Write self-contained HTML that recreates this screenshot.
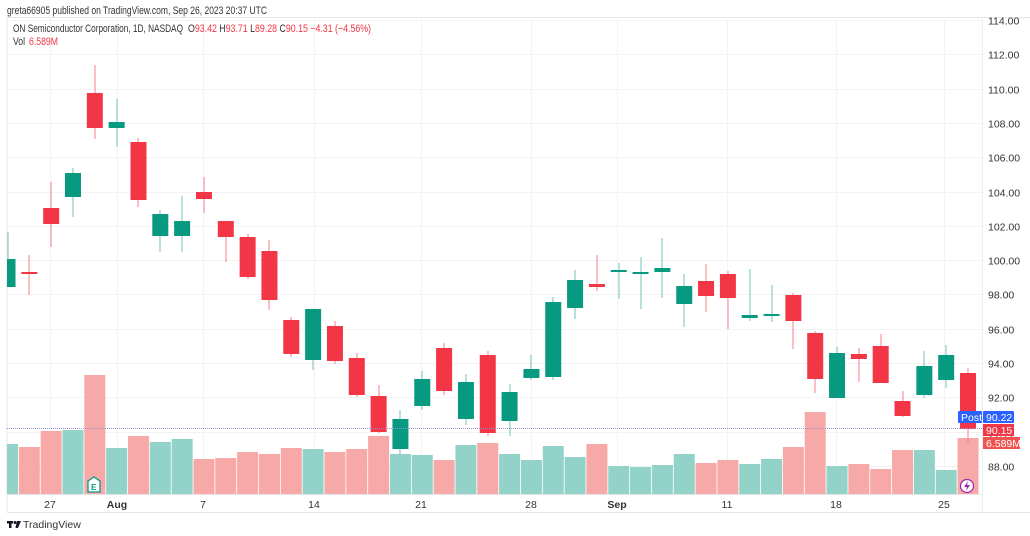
<!DOCTYPE html>
<html><head><meta charset="utf-8"><style>
html,body{margin:0;padding:0;background:#fff;width:1030px;height:536px;overflow:hidden;font-family:"Liberation Sans",sans-serif}
svg{display:block}
</style></head><body>
<svg id="s" width="1030" height="536" xmlns="http://www.w3.org/2000/svg" font-family="Liberation Sans, sans-serif">
<rect width="1030" height="536" fill="#fff"/>
<text x="7" y="14" font-size="11" fill="#333" textLength="260" lengthAdjust="spacingAndGlyphs">greta66905 published on TradingView.com, Sep 26, 2023 20:37 UTC</text>
<line x1="7" y1="17.5" x2="1030" y2="17.5" stroke="#e6e6ea"/>
<line x1="7" y1="17" x2="7" y2="512" stroke="#e6e6ea"/>
<line x1="7" y1="512.5" x2="1030" y2="512.5" stroke="#e6e6ea"/>
<line x1="7" y1="494.5" x2="982" y2="494.5" stroke="#e6e6ea"/>
<line x1="982.5" y1="17" x2="982.5" y2="512" stroke="#eeeef0"/>
<g id="grid"></g>
<g id="vol"></g>
<g id="cdl"></g>
<line x1="7" y1="428.5" x2="982" y2="428.5" stroke="#9a8fd8" stroke-dasharray="1,1" stroke-width="1"/>
<g id="axis" font-size="10.5" fill="#333"></g>
<g font-size="11">
<text x="13" y="32" fill="#333" textLength="170" lengthAdjust="spacingAndGlyphs">ON Semiconductor Corporation, 1D, NASDAQ</text>
<text x="188" y="32" fill="#333" textLength="183" lengthAdjust="spacingAndGlyphs">O<tspan fill="#f23645">93.42</tspan> H<tspan fill="#f23645">93.71</tspan> L<tspan fill="#f23645">89.28</tspan> C<tspan fill="#f23645">90.15</tspan> <tspan fill="#f23645">−4.31 (−4.56%)</tspan></text>
<text x="13" y="45" fill="#333" textLength="12" lengthAdjust="spacingAndGlyphs">Vol</text>
<text x="29" y="45" fill="#f23645" textLength="29" lengthAdjust="spacingAndGlyphs">6.589M</text>
</g>
<rect x="958" y="411" width="24" height="12" rx="1" fill="#2962ff"/>
<text x="961" y="421" font-size="10.5" fill="#fff">Post</text>
<rect x="983" y="411" width="31" height="12" rx="1" fill="#2962ff"/>
<text x="986" y="421" font-size="10.5" fill="#fff">90.22</text>
<rect x="983" y="424" width="31" height="12" fill="#f23645"/>
<text x="986" y="434" font-size="10.5" fill="#fff">90.15</text>
<rect x="983" y="437" width="37" height="12" fill="#ef5350"/>
<text x="986" y="447" font-size="10.5" fill="#fff">6.589M</text>
<g>
<path d="M88 481 L94 477 L100 481 L100 492 L88 492 Z" fill="#fff" stroke="#089981" stroke-width="1.3"/>
<text x="91" y="490" font-size="8" font-weight="bold" fill="#089981">E</text>
<circle cx="967" cy="486" r="6.5" fill="#fff" stroke="#9c27b0" stroke-width="1.2"/>
<path d="M968 481 L964 487 L967 487 L966 491 L970 485 L967 485 Z" fill="#9c27b0"/>
</g>
<g fill="#131722"><rect x="7" y="521" width="6" height="2.5"/><rect x="9" y="521" width="2.5" height="7"/><circle cx="15" cy="522.5" r="1.5"/><path d="M17 521 L21 521 L18 528 L15.5 528 Z"/></g>
<text x="23" y="528" font-size="10.5" fill="#333">TradingView</text>
</svg>
<script>
const NS="http://www.w3.org/2000/svg";
function el(p,t,a){const e=document.createElementNS(NS,t);for(const k in a)e.setAttribute(k,a[k]);document.getElementById(p).appendChild(e);return e;}
const Y=p=>466-(p-88)*17.154;
for(let p=88;p<=114;p+=2){const y=Math.round(Y(p))+0.5;el("grid","line",{x1:7,y1:y,x2:982,y2:y,stroke:"#f3f3f5"});
 const t=el("axis","text",{x:988,y:y+4});t.textContent=p.toFixed(2);}
const dl=[[50,"27"],[117,"Aug"],[203,"7"],[314,"14"],[421,"21"],[531,"28"],[617,"Sep"],[727,"11"],[836,"18"],[944,"25"]];
dl.forEach(([x,l])=>{el("grid","line",{x1:x+.5,y1:17,x2:x+.5,y2:494,stroke:"#f3f3f5"});
 const t=el("axis","text",{x:x,y:508,"text-anchor":"middle"});t.textContent=l;if(l=="Aug"||l=="Sep")t.setAttribute("font-weight","bold");});
const C=[[259,287,232,287,1],[272,274,255,295,0],[208,224,182,247,0],[173,197,168,217,1],[93,128,65,139,0],[122,128,99,147,1],[142,200,138,207,0],[214,236,210,252,1],[221,236,196,252,1],[192,199,177,213,0],[221,237,221,262,0],[237,277,234,279,0],[251,300,240,310,0],[320,354,317,357,0],[309,360,309,370,1],[326,361,321,364,0],[358,395,353,397,0],[396,432,385,433,0],[419,449,410,455,1],[379,406,371,410,1],[348,391,343,395,0],[382,419,374,425,1],[355,433,351,436,0],[392,421,384,436,1],[369,378,355,380,1],[302,377,297,380,1],[280,308,270,319,1],[284,287,255,291,0],[270,272,263,299,1],[272,274,257,309,1],[268,272,238,298,1],[286,304,274,327,1],[281,296,264,312,0],[274,298,271,329,0],[315,318,269,321,1],[314,316,285,322,1],[295,321,293,349,0],[333,379,331,393,0],[353,398,347,398,1],[354,359,348,382,0],[346,383,334,383,0],[401,416,391,417,0],[366,395,351,398,1],[355,380,345,388,1],[373,429,368,443,0]];
const V=[[444,1],[447,0],[431,0],[430,1],[375,0],[448,1],[436,0],[442,1],[439,1],[459,0],[458,0],[452,0],[454,0],[448,0],[449,1],[452,0],[449,0],[436,0],[454,1],[455,1],[460,0],[445,1],[443,0],[454,1],[460,1],[446,1],[457,1],[444,0],[466,1],[467,1],[465,1],[454,1],[463,0],[460,0],[464,1],[459,1],[447,0],[412,0],[466,1],[464,0],[469,0],[450,0],[450,1],[470,1],[438,0]];
for(let i=0;i<C.length;i++){
 const x=7.5+21.83*i;const c=C[i];const col=c[4]?"#089981":"#f23645";
 const v=V[i];let vx=x-10.5,vw=21;if(vx<7){vw-=7-vx;vx=7;}
 el("vol","rect",{x:vx,y:v[0],width:vw,height:494-v[0],fill:v[1]?"#92d2c8":"#f7a9a7"});
 el("cdl","rect",{x:Math.round(x)-0.5,y:c[2],width:1,height:c[3]-c[2],fill:c[4]?"#6fc3b4":"#f77c86"});
 let bx=x-8,bw=16;if(bx<7){bw-=7-bx;bx=7;}
 el("cdl","rect",{x:bx,y:c[0],width:bw,height:Math.max(2,c[1]-c[0]),fill:col});
}
</script>
</body></html>
